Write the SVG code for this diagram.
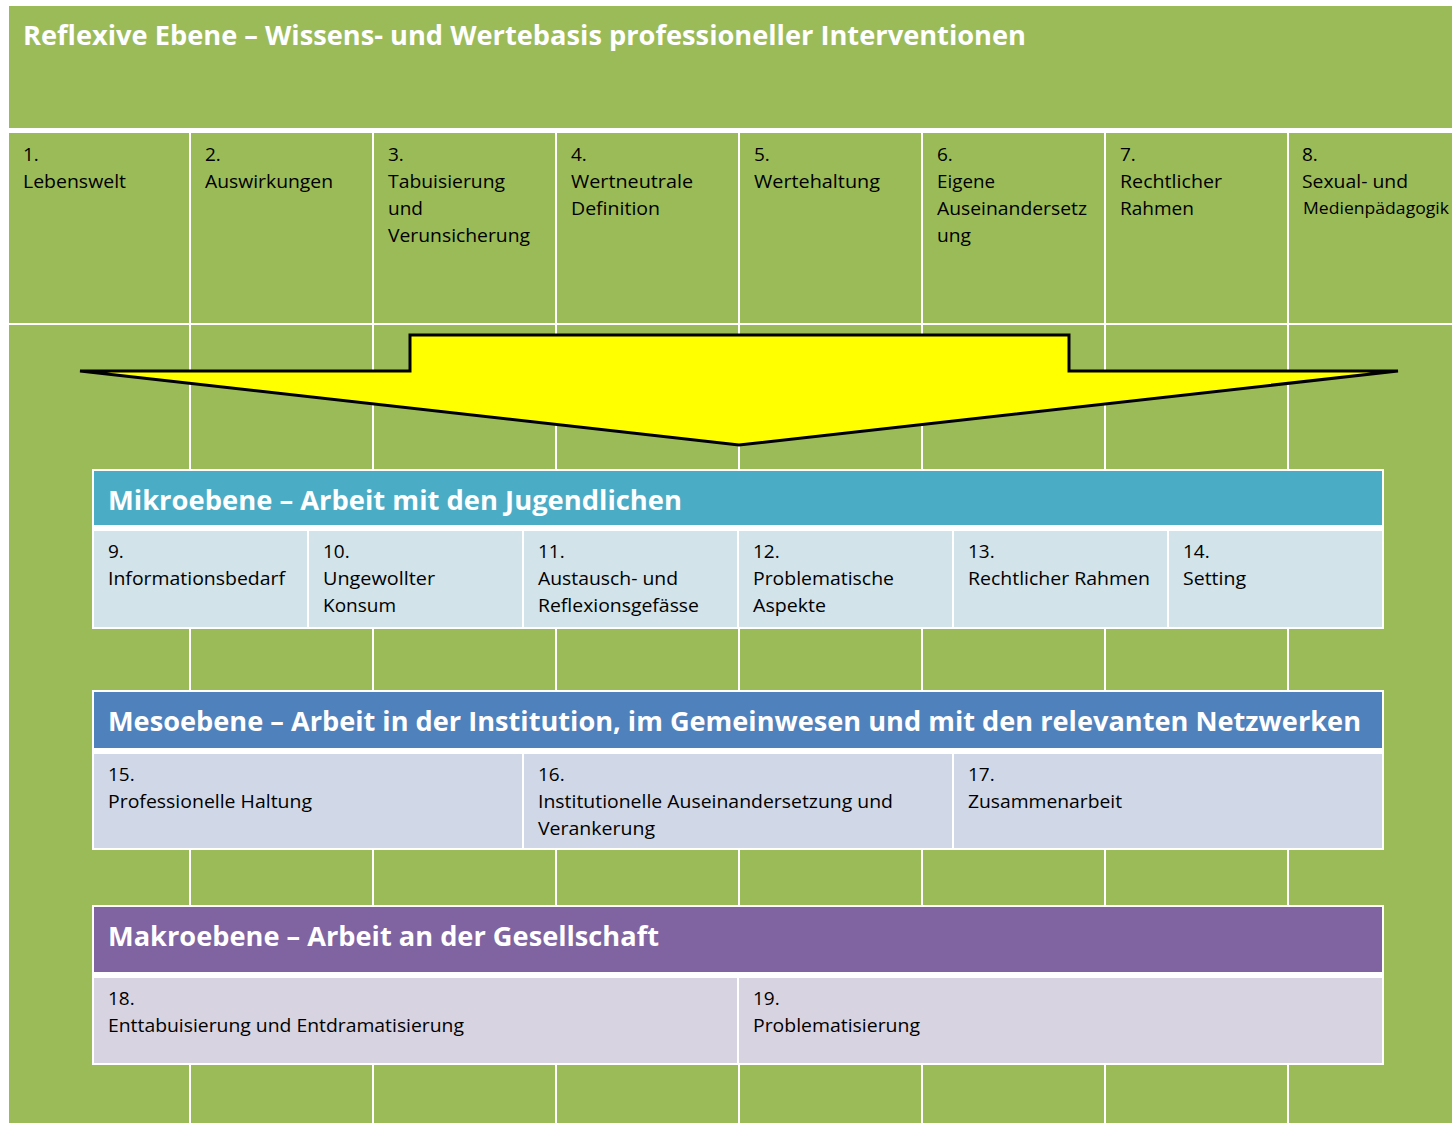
<svg xmlns="http://www.w3.org/2000/svg" width="1452" height="1123" viewBox="0 0 1452 1123">
<style>
.t{font-family:"Open Sans","Noto Sans","Liberation Sans",sans-serif;font-size:19px;fill:#000}
.s{font-size:17px}
.h{font-family:"Open Sans","Noto Sans","Liberation Sans",sans-serif;font-size:26.5px;font-weight:bold;fill:#fff}
.grid{stroke:#fff;stroke-width:2;fill:none}
.box{stroke:#fff;stroke-width:2}
</style>
<rect x="0" y="0" width="1452" height="1123" fill="#fff"/>
<rect x="9" y="6" width="1443" height="1117" fill="#9BBB59"/>
<g id="grid" class="grid">
<rect x="9" y="128" width="1443" height="5" fill="#fff" stroke="none"/>
<line x1="9" y1="324" x2="1452" y2="324"/>
<path d="M190 133V1123M373 133V1123M556 133V1123M739 133V1123M922 133V1123M1105 133V1123M1288 133V1123"/>
</g>
<g id="reflexive">
<text class="h" x="23" y="45" textLength="1003" lengthAdjust="spacingAndGlyphs">Reflexive Ebene – Wissens- und Wertebasis professioneller Interventionen</text>
</g>
<g id="col1"><text class="t" x="23" y="161">1.</text><text class="t" x="23" y="188" textLength="103" lengthAdjust="spacingAndGlyphs">Lebenswelt</text></g>
<g id="col2"><text class="t" x="205" y="161">2.</text><text class="t" x="205" y="188" textLength="128" lengthAdjust="spacingAndGlyphs">Auswirkungen</text></g>
<g id="col3"><text class="t" x="388" y="161">3.</text><text class="t" x="388" y="188" textLength="117" lengthAdjust="spacingAndGlyphs">Tabuisierung</text><text class="t" x="388" y="215" textLength="35" lengthAdjust="spacingAndGlyphs">und</text><text class="t" x="388" y="242" textLength="142" lengthAdjust="spacingAndGlyphs">Verunsicherung</text></g>
<g id="col4"><text class="t" x="571" y="161">4.</text><text class="t" x="571" y="188" textLength="122" lengthAdjust="spacingAndGlyphs">Wertneutrale</text><text class="t" x="571" y="215" textLength="89" lengthAdjust="spacingAndGlyphs">Definition</text></g>
<g id="col5"><text class="t" x="754" y="161">5.</text><text class="t" x="754" y="188" textLength="126" lengthAdjust="spacingAndGlyphs">Wertehaltung</text></g>
<g id="col6"><text class="t" x="937" y="161">6.</text><text class="t" x="937" y="188" textLength="58" lengthAdjust="spacingAndGlyphs">Eigene</text><text class="t" x="937" y="215" textLength="150" lengthAdjust="spacingAndGlyphs">Auseinandersetz</text><text class="t" x="937" y="242" textLength="34" lengthAdjust="spacingAndGlyphs">ung</text></g>
<g id="col7"><text class="t" x="1120" y="161">7.</text><text class="t" x="1120" y="188" textLength="102" lengthAdjust="spacingAndGlyphs">Rechtlicher</text><text class="t" x="1120" y="215" textLength="74" lengthAdjust="spacingAndGlyphs">Rahmen</text></g>
<g id="col8"><text class="t" x="1302" y="161">8.</text><text class="t" x="1302" y="188" textLength="106" lengthAdjust="spacingAndGlyphs">Sexual- und</text><text class="t s" x="1303" y="214" textLength="146" lengthAdjust="spacingAndGlyphs">Medienpädagogik</text></g>
<g id="connectors">
<polygon points="80,371 410,371 410,335 1069,335 1069,371 1398,371 739,445" fill="#FFFF00" stroke="#000" stroke-width="3" stroke-linejoin="miter"/>
</g>
<g id="mikro">
<rect class="box" x="93" y="470" width="1290" height="158" fill="#fff"/>
<rect x="94" y="471" width="1288" height="54" fill="#4BACC6"/>
<rect x="94" y="531" width="1288" height="96" fill="#D2E3EA"/>
<path class="grid" d="M308 529V628M523 529V628M738 529V628M953 529V628M1168 529V628"/>
<text class="h" x="108" y="510" textLength="574" lengthAdjust="spacingAndGlyphs">Mikroebene – Arbeit mit den Jugendlichen</text>
</g>
<g id="n9"><text class="t" x="108" y="558">9.</text><text class="t" x="108" y="585" textLength="177" lengthAdjust="spacingAndGlyphs">Informationsbedarf</text></g>
<g id="n10"><text class="t" x="323" y="558">10.</text><text class="t" x="323" y="585" textLength="112" lengthAdjust="spacingAndGlyphs">Ungewollter</text><text class="t" x="323" y="612" textLength="73" lengthAdjust="spacingAndGlyphs">Konsum</text></g>
<g id="n11"><text class="t" x="538" y="558">11.</text><text class="t" x="538" y="585" textLength="140" lengthAdjust="spacingAndGlyphs">Austausch- und</text><text class="t" x="538" y="612" textLength="161" lengthAdjust="spacingAndGlyphs">Reflexionsgefässe</text></g>
<g id="n12"><text class="t" x="753" y="558">12.</text><text class="t" x="753" y="585" textLength="141" lengthAdjust="spacingAndGlyphs">Problematische</text><text class="t" x="753" y="612" textLength="73" lengthAdjust="spacingAndGlyphs">Aspekte</text></g>
<g id="n13"><text class="t" x="968" y="558">13.</text><text class="t" x="968" y="585" textLength="182" lengthAdjust="spacingAndGlyphs">Rechtlicher Rahmen</text></g>
<g id="n14"><text class="t" x="1183" y="558">14.</text><text class="t" x="1183" y="585" textLength="63" lengthAdjust="spacingAndGlyphs">Setting</text></g>
<g id="meso">
<rect class="box" x="93" y="691" width="1290" height="158" fill="#fff"/>
<rect x="94" y="692" width="1288" height="56" fill="#4F81BD"/>
<rect x="94" y="754" width="1288" height="94" fill="#D0D8E8"/>
<path class="grid" d="M523 752V849M953 752V849"/>
<text class="h" x="108" y="731" textLength="1253" lengthAdjust="spacingAndGlyphs">Mesoebene – Arbeit in der Institution, im Gemeinwesen und mit den relevanten Netzwerken</text>
</g>
<g id="n15"><text class="t" x="108" y="781">15.</text><text class="t" x="108" y="808" textLength="204" lengthAdjust="spacingAndGlyphs">Professionelle Haltung</text></g>
<g id="n16"><text class="t" x="538" y="781">16.</text><text class="t" x="538" y="808" textLength="355" lengthAdjust="spacingAndGlyphs">Institutionelle Auseinandersetzung und</text><text class="t" x="538" y="835" textLength="117" lengthAdjust="spacingAndGlyphs">Verankerung</text></g>
<g id="n17"><text class="t" x="968" y="781">17.</text><text class="t" x="968" y="808" textLength="154" lengthAdjust="spacingAndGlyphs">Zusammenarbeit</text></g>
<g id="makro">
<rect class="box" x="93" y="906" width="1290" height="158" fill="#fff"/>
<rect x="94" y="907" width="1288" height="65" fill="#8064A2"/>
<rect x="94" y="978" width="1288" height="85" fill="#D8D3E1"/>
<path class="grid" d="M738 976V1064"/>
<text class="h" x="108" y="946" textLength="551" lengthAdjust="spacingAndGlyphs">Makroebene – Arbeit an der Gesellschaft</text>
</g>
<g id="n18"><text class="t" x="108" y="1005">18.</text><text class="t" x="108" y="1032" textLength="356" lengthAdjust="spacingAndGlyphs">Enttabuisierung und Entdramatisierung</text></g>
<g id="n19"><text class="t" x="753" y="1005">19.</text><text class="t" x="753" y="1032" textLength="167" lengthAdjust="spacingAndGlyphs">Problematisierung</text></g>
</svg>
